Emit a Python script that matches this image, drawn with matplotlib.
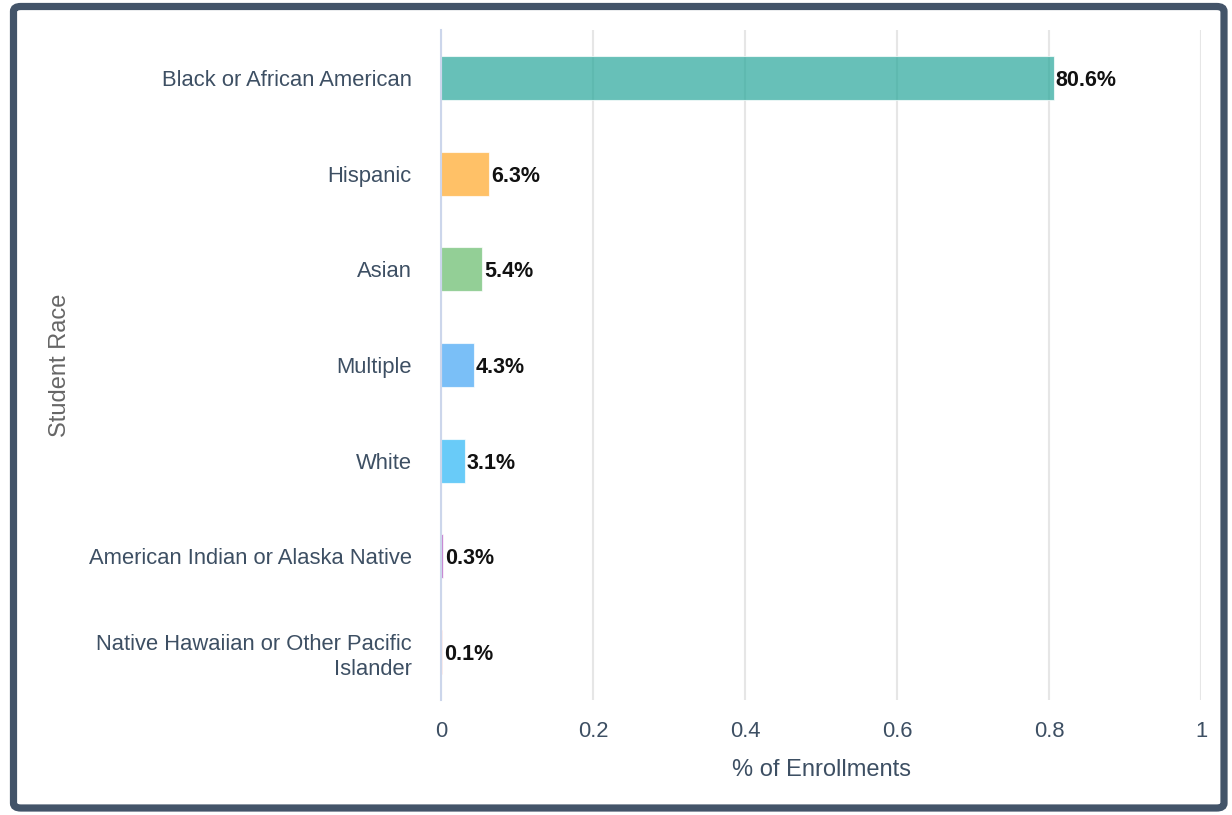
import matplotlib.pyplot as plt
from matplotlib.patches import FancyBboxPatch

races = ["Black or African American", "Hispanic", "Asian", "Multiple", "White",
         "American Indian or Alaska Native", "Native Hawaiian or Other Pacific\nIslander"]
shares = [0.806, 0.063, 0.054, 0.043, 0.031, 0.003, 0.001]
colors = ["#26a69a", "#ffa726", "#66bb6a", "#42a5f5", "#29b6f6", "#ab47bc", "#ef5350"]
xticks = [0, 0.2, 0.4, 0.6, 0.8, 1]
xtick_labels = ["0", "0.2", "0.4", "0.6", "0.8", "1"]

plt.rcParams['font.family'] = ['Liberation Sans', 'DejaVu Sans']

W, H = 1232, 815
fig = plt.figure(figsize=(W / 100, H / 100), dpi=100)
ax = fig.add_axes([441 / W, 1 - 700 / H, 760 / W, 670 / H])

y = list(range(len(races)))
ax.barh(y, shares, height=0.46, color=colors, alpha=0.7, edgecolor="white",
        linewidth=0.8, zorder=3)
for yi, v in zip(y, shares):
    ax.annotate(f"{v * 100:.1f}%", (v, yi), xytext=(2, 0), textcoords="offset pixels",
                ha="left", va="center_baseline", fontsize=15.5, fontweight="bold",
                color="#111111", zorder=4)

ax.set_xlim(0, 1)
ax.set_ylim(6.5, -0.5)
ax.set_yticks(y)
ax.set_yticklabels(races, fontsize=15.8, color="#3d4f63", linespacing=1.3)
ax.set_xticks(xticks)
ax.set_xticklabels(xtick_labels, fontsize=15.8, color="#3d4f63")
ax.tick_params(axis="both", length=0)
ax.tick_params(axis="x", pad=15)
ax.tick_params(axis="y", pad=21)

ax.grid(axis="x", color="#e6e6e6", linewidth=1.5, zorder=0)
ax.set_axisbelow(True)
for s in ["top", "right", "bottom"]:
    ax.spines[s].set_visible(False)
ax.spines["left"].set_color("#ccd6eb")
ax.spines["left"].set_linewidth(1.5)
ax.spines["left"].set_zorder(5)

ax.set_xlabel("% of Enrollments", fontsize=17, color="#3d4f63", labelpad=12)
fig.text(60 / W, 1 - 365 / H, "Student Race", rotation=90, fontsize=17,
         color="#666666", ha="center", va="center")

frame = FancyBboxPatch((13.5 / W, 1 - 808 / H), (1224 - 13.5) / W, (808 - 6.5) / H,
                       boxstyle="round,pad=0,rounding_size=0.006",
                       transform=fig.transFigure, fill=False,
                       edgecolor="#435469", linewidth=5.2)
fig.patches.append(frame)

fig.savefig("out.png", dpi=100)
